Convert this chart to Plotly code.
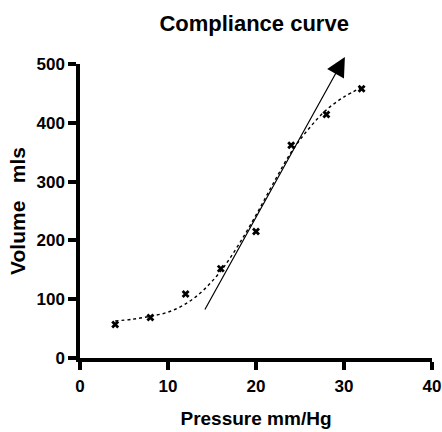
import plotly.graph_objects as go

# Measured pressure / volume points
pressure = [4, 8, 12, 16, 20, 24, 28, 32]
volume = [57, 69, 109, 152, 215, 362, 414, 458]

# Smooth fitted compliance curve
fit_pressure = [4, 6, 8, 10, 12, 14, 16, 18, 20, 22, 24, 26, 28, 30, 32]
fit_volume = [63, 66, 71, 78, 92, 115, 148, 192, 243, 298, 350, 390, 422, 444, 460]

# Tangent arrow over the linear (compliant) region: tail -> head
arrow_pressure = [14.1, 30.1]
arrow_volume = [80, 512]

x_ticks = [0, 10, 20, 30, 40]
y_ticks = [0, 100, 200, 300, 400, 500]

font_family = "Liberation Sans, Arial, sans-serif"

fig = go.Figure()

fig.add_trace(go.Scatter(
    x=fit_pressure, y=fit_volume, mode="lines",
    line=dict(color="black", width=1.4, dash="dot", shape="spline", smoothing=1.0),
    hoverinfo="skip", showlegend=False,
))

fig.add_trace(go.Scatter(
    x=pressure, y=volume, mode="markers",
    marker=dict(symbol="x-thin", size=6, color="black",
                line=dict(color="black", width=2.8)),
    showlegend=False, cliponaxis=False,
))

fig.add_annotation(
    x=arrow_pressure[1], y=arrow_volume[1],
    ax=arrow_pressure[0], ay=arrow_volume[0],
    xref="x", yref="y", axref="x", ayref="y",
    text="", showarrow=True, arrowhead=2, arrowsize=3.2,
    arrowwidth=1.2, arrowcolor="black",
)

axis_common = dict(
    showline=True, linecolor="black", linewidth=3.5,
    ticks="outside", ticklen=8, tickwidth=3.5, tickcolor="black",
    showgrid=False, zeroline=False, automargin=False,
    ticklabeloverflow="allow",
    tickfont=dict(family=font_family, size=17, color="black", weight="bold"),
)

fig.update_xaxes(range=[0, 40], tickvals=x_ticks, ticklabelstandoff=2,
                 title_text="Pressure mm/Hg", title_standoff=18,
                 title_font=dict(family=font_family, size=19, color="black", weight="bold"),
                 **axis_common)
fig.update_yaxes(range=[0, 500], tickvals=y_ticks,
                 title_text="Volume\u00a0\u00a0\u00a0mls", title_standoff=6,
                 title_font=dict(family=font_family, size=21, color="black", weight="bold"),
                 **axis_common)

fig.update_layout(
    width=442, height=432,
    margin=dict(l=80, r=10, t=64, b=74),
    paper_bgcolor="white", plot_bgcolor="white",
    title=dict(text="Compliance curve", x=0.575, xanchor="center", y=0.947, yanchor="middle",
               font=dict(family=font_family, size=22, color="black", weight="bold")),
)

fig.write_html("out.html")
